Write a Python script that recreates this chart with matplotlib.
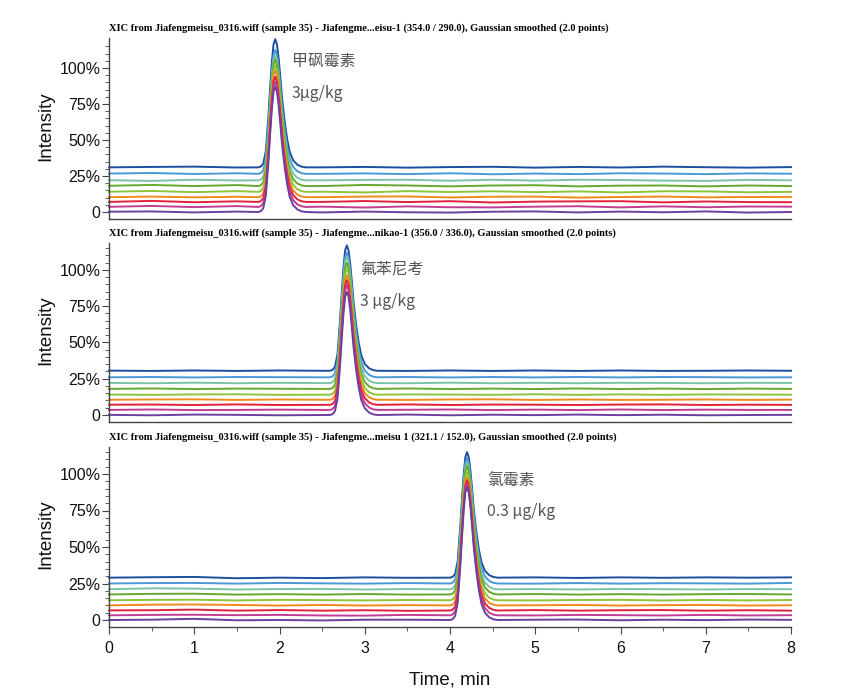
import numpy as np
import matplotlib
matplotlib.use('Agg')
import matplotlib.pyplot as plt

W, H = 859, 699

# bottom trace first in the lists: purple -> navy
colors = ['#6b3f9e', '#c23c94', '#e2203c', '#f08a1d', '#8cc43c',
          '#66a82e', '#7cc4a6', '#4a98d6', '#1c4f9e']
draw_order = [8, 7, 6, 5, 4, 3, 2, 1, 0]

knots = [0, 0.5, 1, 1.5, 2, 2.5, 3, 3.5, 4, 4.5, 5, 5.5, 6, 6.5, 7, 7.5, 8]

# peak shape (min from apex, fraction of height)
peak_dt = [-0.2, -0.17, -0.14, -0.11, -0.08, -0.06, -0.04, -0.02, 0,
           0.02, 0.04, 0.06, 0.08, 0.11, 0.14, 0.17, 0.21, 0.26, 0.31, 0.36]
peak_frac = [0, 0.006, 0.03, 0.13, 0.4, 0.62, 0.82, 0.96, 1,
             0.96, 0.85, 0.7, 0.54, 0.36, 0.22, 0.12, 0.055, 0.02, 0.005, 0]

titles = [
    'XIC from Jiafengmeisu_0316.wiff (sample 35) - Jiafengme...eisu-1 (354.0 / 290.0), Gaussian smoothed (2.0 points)',
    'XIC from Jiafengmeisu_0316.wiff (sample 35) - Jiafengme...nikao-1 (356.0 / 336.0), Gaussian smoothed (2.0 points)',
    'XIC from Jiafengmeisu_0316.wiff (sample 35) - Jiafengme...meisu 1 (321.1 / 152.0), Gaussian smoothed (2.0 points)',
]
names = ['甲砜霉素', '氟苯尼考', '氯霉素']
doses = ['3μg/kg', '3 μg/kg', '0.3 μg/kg']
apex_times = [1.95, 2.79, 4.2]

offsets_1 = [0, 3.5, 7, 10.3, 14, 18, 22, 26.5, 31]
offsets_2 = [0, 3.5, 7, 10.5, 14, 18, 22, 26, 30.5]
offsets_3 = [0, 3.2, 6.5, 10, 13.5, 17.5, 21, 25, 29]

heights_1 = [87, 87, 87, 88, 88, 88, 87, 86, 89]
heights_2 = [85, 86, 86, 86, 87, 87, 87, 86, 86.5]
heights_3 = [91, 90, 89, 88, 88, 88, 87, 86, 86]

wiggle_1 = [
    [0.2, 0.4, -0.3, 0.3, 0, -0.3, 0.3, -0.2, -0.4, 0.2, 0.4, -0.3, 0.3, -0.2, 0.4, -0.4, 0],
    [0.1, 0.7, -0.1, 0.6, 0, 0.2, -0.4, 0.4, -0.2, -0.3, 0.2, 0.5, -0.3, 0.4, -0.2, 0.3, 0.2],
    [0, 0.7, -0.2, 0.4, 0, 0, 0.6, -0.1, 0.5, -0.4, 0.2, 0.4, 0.5, -0.3, 0.3, -0.1, -0.2],
    [0, 0.4, -0.1, 0.3, 0, 0, 0.4, 0.5, -0.2, 0.3, 0.4, -0.3, 0.1, 0.4, -0.1, 0.1, 0.2],
    [0.1, 0.6, -0.2, 0.5, 0, 0.1, -0.4, 0.5, -0.1, 0.4, -0.2, 0.3, -0.4, 0.4, 0.3, -0.3, 0],
    [0.2, 0.8, 0, 0.7, 0, 0, 0.8, 0.4, -0.2, 0.4, 0.6, -0.2, 0.3, 0.4, -0.2, 0.4, 0],
    [0.1, -0.4, 0.4, -0.1, 0, 0, 0.3, 0.4, -0.3, 0.4, -0.2, 0.4, 0.2, -0.2, -0.4, 0.3, 0],
    [0.2, 0.6, -0.1, 0.4, 0, 0, 0.3, -0.2, 0.4, -0.3, 0.2, -0.2, 0.4, 0.2, -0.2, 0.3, 0.1],
    [0, 0.3, 0.5, -0.1, 0, 0, 0.3, -0.2, 0.2, 0.4, -0.2, 0.3, -0.1, 0.5, 0.1, -0.2, 0.2],
]
wiggle_2 = [
    [0.1, -0.2, 0.3, 0.1, -0.2, 0, 0, 0.3, -0.2, 0.2, -0.1, 0.3, -0.1, 0.2, -0.2, 0, 0.1],
    [0, 0.3, -0.1, 0, 0.2, 0, 0, 0.1, 0.3, -0.1, 0.2, -0.1, 0.3, -0.1, 0.2, 0, 0],
    [0.1, 0.2, -0.1, 0.3, -0.1, 0, 0, 0.3, -0.1, 0.2, 0.1, -0.1, 0.2, 0.3, -0.1, 0.1, 0],
    [0, 0.2, 0.3, -0.1, 0.2, 0, 0, -0.1, 0.2, 0.3, -0.1, 0.2, -0.1, 0, 0.2, -0.1, 0.1],
    [0.1, -0.1, 0.2, 0.3, -0.1, 0, 0, 0.2, 0.1, -0.1, 0.3, -0.1, 0.2, -0.1, 0.2, 0.1, 0],
    [0, 0.3, -0.1, 0.2, 0.1, 0, 0, 0.3, -0.1, 0.2, -0.1, 0.3, -0.1, 0.2, -0.1, 0.2, 0],
    [0.1, -0.1, 0.3, -0.1, 0.2, 0, 0, -0.1, 0.3, -0.1, 0.2, -0.1, 0.2, 0.1, -0.1, 0.2, 0.1],
    [0, 0.2, -0.1, 0.2, 0.1, 0, 0, 0.2, -0.1, 0.2, -0.1, 0.2, -0.1, 0.2, 0.1, -0.1, 0],
    [0.1, -0.1, 0.2, -0.1, 0.2, 0, 0, -0.1, 0.2, -0.1, 0.2, -0.1, 0.2, -0.1, 0, 0.2, 0],
]
wiggle_3 = [
    [0, 0.2, 0.8, -0.2, 0, -0.3, 0.2, 0.2, 0, 0, 0.2, 0.3, -0.2, 0.2, -0.1, 0.3, 0.1],
    [0, 0.3, 0.4, 0.1, 0.3, -0.1, -0.2, 0.3, 0, 0, -0.1, 0.3, 0.1, -0.1, 0.3, -0.1, 0.1],
    [0.1, 0.2, 0.6, -0.1, 0.3, -0.1, 0.2, -0.2, 0, 0, 0.3, -0.1, 0.2, 0.3, -0.1, 0.2, -0.1],
    [0, 0.5, 0.6, 0.3, -0.1, 0.3, -0.1, 0.2, 0, 0, 0.1, 0.3, -0.1, 0.2, 0.3, -0.1, 0.1],
    [0, 0.3, 0.4, -0.1, 0.3, 0.1, -0.1, 0.2, 0, 0, -0.1, 0.2, 0.3, -0.1, 0.2, -0.1, 0.2],
    [0, 0.4, 0.5, -0.1, 0.2, -0.1, 0.3, -0.1, 0, 0, 0.3, -0.1, 0.2, -0.1, 0.2, 0.3, 0],
    [0.1, 0.7, 0.5, -0.1, 0.2, 0.3, -0.1, 0.2, 0, 0, 0.2, -0.1, 0.3, 0.1, -0.1, 0.2, 0.1],
    [0, 0.3, 0.4, -0.1, 0.4, 0.1, -0.1, 0.3, 0, 0, -0.1, 0.3, -0.1, 0.2, 0.1, -0.1, 0.4],
    [0, 0.3, 0.5, -0.4, 0, -0.3, 0.2, -0.1, 0, 0, 0.2, -0.2, 0.2, -0.1, 0.2, 0, 0.2],
]

offsets = [offsets_1, offsets_2, offsets_3]
heights = [heights_1, heights_2, heights_3]
wiggles = [wiggle_1, wiggle_2, wiggle_3]

# pixel boxes of the panels: top, bottom, pixel of 0 and of 100%
tops = [38, 243, 447]
bottoms = [219, 422, 627]
zeros = [212, 415, 620]
hundreds = [68, 270, 474]
text_px = [(292, 61, 93), (360, 269, 301), (487, 480, 512)]
left, right = 109, 791

plt.rcParams['font.family'] = ['Liberation Sans', 'DejaVu Sans']
fig = plt.figure(figsize=(W / 100, H / 100), dpi=100)
spine = '#444444'

for p in range(3):
    ax = fig.add_axes([left / W, 1 - bottoms[p] / H, (right - left) / W,
                       (bottoms[p] - tops[p]) / H])
    scale = (zeros[p] - hundreds[p]) / 100
    ax.set_ylim((zeros[p] - bottoms[p]) / scale, (zeros[p] - tops[p]) / scale)
    ax.set_xlim(0, 8)

    t0 = apex_times[p]
    peak_t = [t0 + d for d in peak_dt]
    keep_l = [i for i, k in enumerate(knots) if k < peak_t[0]]
    keep_r = [i for i, k in enumerate(knots) if k > peak_t[-1]]
    t = [knots[i] for i in keep_l] + peak_t + [knots[i] for i in keep_r]

    for s in draw_order:
        base = offsets[p][s]
        w = wiggles[p][s]
        y = ([base + w[i] for i in keep_l]
             + [base + f * heights[p][s] for f in peak_frac]
             + [base + w[i] for i in keep_r])
        ax.plot(t, y, color=colors[s], lw=1.4, solid_joinstyle='round', clip_on=False)

    for side in ['top', 'right']:
        ax.spines[side].set_visible(False)
    for side in ['left', 'bottom']:
        ax.spines[side].set_color(spine)
        ax.spines[side].set_linewidth(1.0)

    ax.set_yticks([0, 25, 50, 75, 100])
    ax.set_yticklabels(['0', '25%', '50%', '75%', '100%'])
    ax.set_yticks(np.arange(0, 120, 5), minor=True)
    ax.tick_params(axis='y', which='major', length=5, color=spine, labelsize=11.5,
                   labelcolor='#111111', pad=1)
    ax.tick_params(axis='y', which='minor', length=3, color=spine)
    ax.set_ylabel('Intensity', fontsize=13.5, color='#111111')
    ax.yaxis.set_label_coords(-(109 - 54) / (right - left), 0.515)

    if p == 2:
        ax.set_xticks(range(9))
        ax.set_xticks(np.arange(0, 8.5, 0.5), minor=True)
        ax.tick_params(axis='x', which='major', length=5, color=spine, labelsize=11.5,
                       labelcolor='#111111', pad=5)
        ax.tick_params(axis='x', which='minor', length=3, color=spine)
        ax.set_xlabel('Time, min', fontsize=13.5, color='#111111', labelpad=11)
    else:
        ax.set_xticks([])

    fig.text(left / W, 1 - (tops[p] - 10) / H, titles[p], fontsize=7.5, fontweight='bold',
             family=['Liberation Serif', 'DejaVu Serif'], va='center', ha='left', color='black')

    tx, y1, y2 = text_px[p]
    fig.text(tx / W, 1 - y1 / H, names[p], fontsize=11.4, color='#555555', va='center',
             family=['Noto Sans CJK SC', 'DejaVu Sans'])
    fig.text(tx / W, 1 - y2 / H, doses[p], fontsize=11.4, color='#555555', va='center',
             family=['Noto Sans CJK SC', 'DejaVu Sans'])

fig.savefig('out.png', dpi=100)
